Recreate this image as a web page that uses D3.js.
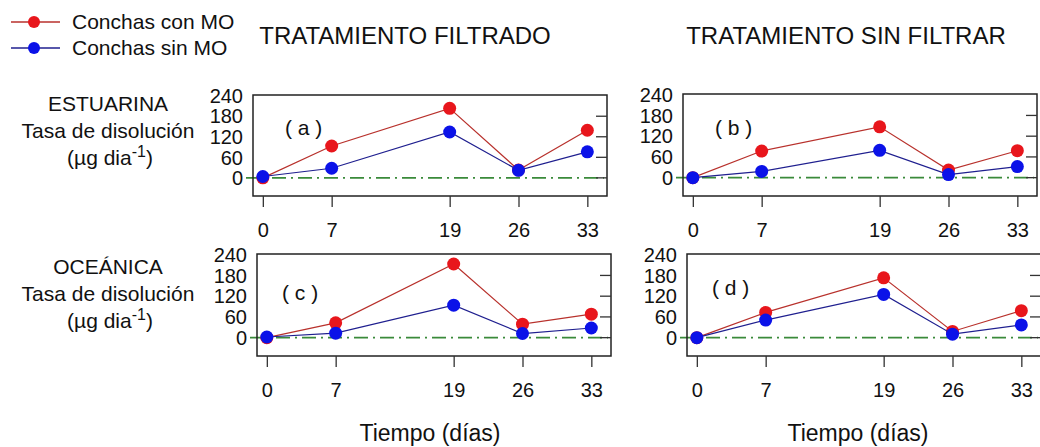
<!DOCTYPE html>
<html>
<head>
<meta charset="utf-8">
<script src="https://cdn.jsdelivr.net/npm/d3@7"></script>
<style>
  body { margin: 0; background: #fff; }
  text { font-family: "Liberation Sans", Arial, sans-serif; fill: #111; }
</style>
</head>
<body>
<div class="canvas"></div>
<script>
// data
const days = [0, 7, 19, 26, 33];
const yTicks = [0, 60, 120, 180, 240];

const aConMO = [0, 93, 203, 23, 139];
const aSinMO = [4, 28, 134, 22, 76];
const bConMO = [0, 77, 147, 22, 78];
const bSinMO = [0, 18, 79, 9, 32];
const cConMO = [0, 43, 213, 39, 68];
const cSinMO = [2, 13, 94, 12, 28];
const dConMO = [0, 73, 173, 18, 78];
const dSinMO = [0, 51, 125, 10, 37];

const seriesNames = ['Conchas con MO', 'Conchas sin MO'];
const panelLabels = ['( a )', '( b )', '( c )', '( d )'];

const svg = d3.select('.canvas')
  .append('svg')
  .attr('width', 1040)
  .attr('height', 447);

// panel frames (layout only)
const panels = [
  { x: 253, y: 95, w: 354, h: 101, lx: 32, ly: 40, con: aConMO, sin: aSinMO, label: panelLabels[0] },
  { x: 683, y: 94, w: 354, h: 102, lx: 32, ly: 41, con: bConMO, sin: bSinMO, label: panelLabels[1] },
  { x: 257, y: 254, w: 354, h: 102, lx: 25, ly: 46, con: cConMO, sin: cSinMO, label: panelLabels[2] },
  { x: 687, y: 254, w: 354, h: 102, lx: 25, ly: 41, con: dConMO, sin: dSinMO, label: panelLabels[3] }
];

const redLine = '#b8312c', redDot = '#e8161c';
const blueLine = '#1f1f8f', blueDot = '#0b12e8';

panels.forEach(p => {
  const g = svg.append('g').attr('transform', `translate(${p.x}, ${p.y})`);

  const x = d3.scaleLinear().domain([-1, 35]).range([0, p.w]);
  const y = d3.scaleLinear().domain([-53, 242]).range([p.h, 0]);

  // zero reference line
  g.append('line')
    .attr('x1', -7).attr('x2', p.w - 3)
    .attr('y1', y(0)).attr('y2', y(0))
    .attr('stroke', '#3a8a3a')
    .attr('stroke-width', 1.6)
    .attr('stroke-dasharray', '14,5,2,5');

  // frame
  g.append('rect')
    .attr('width', p.w).attr('height', p.h)
    .attr('fill', 'none')
    .attr('stroke', '#222')
    .attr('stroke-width', 1.5);

  // y labels on the left (no ticks)
  g.selectAll('.ylab').data(yTicks).enter()
    .append('text')
    .attr('x', -10)
    .attr('y', d => y(d))
    .attr('dy', '0.36em')
    .attr('text-anchor', 'end')
    .attr('font-size', 20)
    .text(d => d);

  // inward ticks on the right
  g.selectAll('.rtick').data(yTicks.slice(0, 4)).enter()
    .append('line')
    .attr('x1', p.w - 11).attr('x2', p.w)
    .attr('y1', d => y(d)).attr('y2', d => y(d))
    .attr('stroke', '#333')
    .attr('stroke-width', 1.3);

  // x axis below the frame
  const xAxisGroup = g.append('g').attr('transform', `translate(0, ${p.h})`);
  const xAxis = d3.axisBottom(x).tickValues(days).tickSize(11).tickPadding(16);
  xAxisGroup.call(xAxis);
  xAxisGroup.select('.domain').remove();
  xAxisGroup.selectAll('line').attr('stroke', '#333').attr('stroke-width', 1.3);
  xAxisGroup.selectAll('text')
    .attr('font-size', 20)
    .attr('fill', '#111')
    .style('font-family', '"Liberation Sans", Arial, sans-serif');

  // panel letter
  g.append('text')
    .attr('x', p.lx)
    .attr('y', p.ly)
    .attr('font-size', 21)
    .text(p.label);

  const line = d3.line().x((d, i) => x(days[i])).y(d => y(d));

  [[p.con, redLine, redDot], [p.sin, blueLine, blueDot]].forEach(([vals, lc, dc]) => {
    g.append('path')
      .attr('d', line(vals))
      .attr('fill', 'none')
      .attr('stroke', lc)
      .attr('stroke-width', 1.2);
    g.selectAll(null).data(vals).enter()
      .append('circle')
      .attr('cx', (d, i) => x(days[i]))
      .attr('cy', d => y(d))
      .attr('r', 6.5)
      .attr('fill', dc);
  });
});

// legend
const legend = svg.append('g');
[[redLine, redDot, 22], [blueLine, blueDot, 48]].forEach(([lc, dc, ly], i) => {
  legend.append('line')
    .attr('x1', 11).attr('x2', 60)
    .attr('y1', ly).attr('y2', ly)
    .attr('stroke', lc).attr('stroke-width', 1.3);
  legend.append('circle')
    .attr('cx', 34).attr('cy', ly).attr('r', 6).attr('fill', dc);
  legend.append('text')
    .attr('x', 72).attr('y', ly + 7)
    .attr('font-size', 21)
    .text(seriesNames[i]);
});

// column titles
svg.append('text').attr('x', 405).attr('y', 44)
  .attr('text-anchor', 'middle').attr('font-size', 24)
  .text('TRATAMIENTO FILTRADO');
svg.append('text').attr('x', 846).attr('y', 44)
  .attr('text-anchor', 'middle').attr('font-size', 24)
  .text('TRATAMIENTO SIN FILTRAR');

// row labels
const rowLabel = (name, y0, gap) => {
  svg.append('text').attr('x', 108).attr('y', y0)
    .attr('text-anchor', 'middle').attr('font-size', 21).text(name);
  svg.append('text').attr('x', 108).attr('y', y0 + gap)
    .attr('text-anchor', 'middle').attr('font-size', 21).text('Tasa de disolución');
  const t = svg.append('text').attr('x', 110).attr('y', y0 + gap * 2)
    .attr('text-anchor', 'middle').attr('font-size', 21);
  t.append('tspan').text('(µg dia');
  t.append('tspan').attr('dy', -8).attr('font-size', 16).text('-1');
  t.append('tspan').attr('dy', 8).text(')');
};
rowLabel('ESTUARINA', 111, 27);
rowLabel('OCEÁNICA', 274, 27);

// x axis titles
svg.append('text').attr('x', 430).attr('y', 441)
  .attr('text-anchor', 'middle').attr('font-size', 23).text('Tiempo (días)');
svg.append('text').attr('x', 858).attr('y', 441)
  .attr('text-anchor', 'middle').attr('font-size', 23).text('Tiempo (días)');
</script>
</body>
</html>
